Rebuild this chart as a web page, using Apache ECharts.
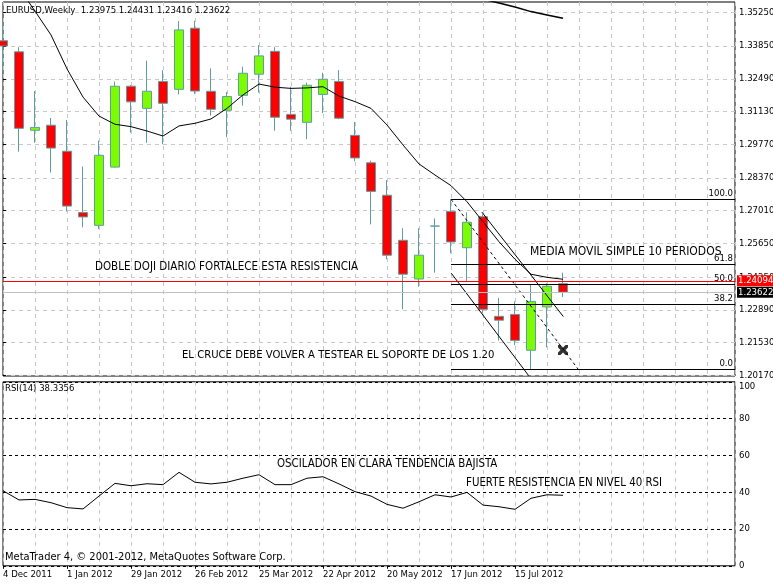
<!DOCTYPE html>
<html><head><meta charset="utf-8">
<script src="https://cdn.jsdelivr.net/npm/echarts@6/dist/echarts.min.js"></script>
<style>html,body{margin:0;padding:0;background:#fff}#c{width:773px;height:584px}</style>
</head><body><div id="c"></div>
<script>
// ---------------- data ----------------
const symbolName = 'EURUSD,Weekly';
const dateLabels = ['4 Dec 2011','1 Jan 2012','29 Jan 2012','26 Feb 2012','25 Mar 2012','22 Apr 2012','20 May 2012','17 Jun 2012','15 Jul 2012'];
const dateLabelIdx = [0, 4, 8, 12, 16, 20, 24, 28, 32];
const open  = [1.3407,1.3361,1.3035,1.3056,1.2948,1.2693,1.2640,1.2882,1.3218,1.3126,1.3238,1.3205,1.3459,1.3197,1.3118,1.3180,1.3268,1.3363,1.3101,1.3068,1.3184,1.3238,1.3014,1.2900,1.2765,1.2578,1.2417,1.2637,1.2698,1.2547,1.2676,1.2262,1.2270,1.2121,1.2301,1.23975];
const close = [1.3385,1.3043,1.3047,1.2961,1.2720,1.2675,1.2931,1.3218,1.3153,1.3197,1.3147,1.3452,1.3198,1.3122,1.3175,1.3272,1.3344,1.3089,1.3081,1.3222,1.3247,1.3085,1.2920,1.2781,1.2516,1.2437,1.2516,1.2637,1.2571,1.2653,1.2291,1.2246,1.2162,1.2324,1.2387,1.23622];
const low   = [1.3282,1.2946,1.2983,1.2859,1.2697,1.2632,1.2625,1.2880,1.3025,1.2983,1.2977,1.3184,1.3186,1.3096,1.3006,1.3137,1.3191,1.3033,1.3033,1.2998,1.3106,1.3081,1.2906,1.2644,1.2499,1.2291,1.2385,1.2443,1.2524,1.2409,1.2275,1.2161,1.2142,1.2042,1.2133,1.23416];
const high  = [1.3490,1.3380,1.3198,1.3086,1.3078,1.2884,1.2992,1.3237,1.3223,1.3324,1.3285,1.3489,1.3490,1.3292,1.3194,1.3299,1.3389,1.3380,1.3216,1.3233,1.3274,1.3285,1.3069,1.2909,1.2828,1.2628,1.2628,1.2669,1.2748,1.2694,1.2686,1.2338,1.2324,1.2395,1.2399,1.24431];
const sma10 = [1.3701,1.3626,1.3530,1.3431,1.3290,1.3173,1.3094,1.3060,1.3050,1.3032,1.3011,1.3053,1.3064,1.3082,1.3126,1.3182,1.3227,1.3214,1.3209,1.3211,1.3216,1.3177,1.3154,1.3126,1.3057,1.2974,1.2895,1.2849,1.2805,1.2738,1.2655,1.2572,1.2499,1.2437,1.2424,1.2416];
const smaLong = [null,null,null,null,null,null,null,null,null,null,null,null,null,null,null,null,null,null,null,null,null,null,null,null,null,null,null,null,null,null,1.3580,1.3564,1.3547,1.3528,1.3514,1.3500];
const rsi14 = [40.8,35.8,36.1,34.3,31.6,30.9,37.9,44.8,43.5,44.6,44.1,50.8,45.4,44.5,45.4,47.6,49.5,44.1,44.1,47.6,48.4,44.5,40.3,37.9,33.4,31.3,34.8,38.6,37.4,39.9,33.0,32.1,30.7,36.7,38.6,38.3356];
const priceTicks = [1.2017,1.2153,1.2289,1.2425,1.2565,1.2701,1.2837,1.2977,1.3113,1.3249,1.3385,1.3525];
const rsiTicks = [0,20,40,60,80,100];
const fibLevels = [1.27482,1.24784,1.23950,1.23117,1.20419];
const fibNames = ['100.0','61.8','50.0','38.2','0.0'];
const fibStartIdx = 28;
const fibTrend = [[28, 1.27482],[35.95, 1.20419]];
const channelUpper = [[29.93, 1.2695],[35.02, 1.2261]];
const channelLower = [[28.02, 1.2441],[32.85, 1.2016]];
const crossMark = [[35, 1.2122]];
const resistanceLevel = 1.24094;
const bidPrice = 1.23622;
const notes = ['DOBLE DOJI DIARIO FORTALECE ESTA RESISTENCIA','MEDIA MOVIL SIMPLE 10 PERIODOS','EL CRUCE DEBE VOLVER A TESTEAR EL SOPORTE DE LOS 1.20','OSCILADOR EN CLARA TENDENCIA BAJISTA','FUERTE RESISTENCIA EN NIVEL 40 RSI'];
const copyright = 'MetaTrader 4, \u00a9 2001-2012, MetaQuotes Software Corp.';

// ---------------- chart ----------------
const FONT = "'DejaVu Sans Condensed','Liberation Sans',Arial,sans-serif";
const xMin = 0, xMax = 45.75;
const yMin = 1.20141, yMax = 1.35679;
const last = open.length - 1;
const candleData = open.map((o, i) => [i, o, close[i], low[i], high[i]]);
const gridDash = {color: '#c8c8c8', type: [4, 4], width: 1};
const axisText = {color: '#000', fontFamily: FONT, fontSize: 9.5};

const chart = echarts.init(document.getElementById('c'), null, {renderer: 'canvas'});
const blackLine = {color: '#000', width: 1, type: 'solid'};

const markData = [];
fibLevels.forEach((v, i) => {
  markData.push([
    {coord: [fibStartIdx, v], lineStyle: blackLine,
     label: {show: true, formatter: fibNames[i], position: 'insideEndTop', distance: [2, 1], color: '#000', fontFamily: FONT, fontSize: 9.5}},
    {coord: [xMax, v]}
  ]);
});
markData.push([{coord: fibTrend[0], lineStyle: {color: '#000', width: 1, type: [3, 3]}, label: {show: false}}, {coord: fibTrend[1]}]);
markData.push([{coord: channelUpper[0], lineStyle: blackLine, label: {show: false}}, {coord: channelUpper[1]}]);
markData.push([{coord: channelLower[0], lineStyle: blackLine, label: {show: false}}, {coord: channelLower[1]}]);
markData.push({yAxis: bidPrice, lineStyle: {color: '#c0c0c0', width: 1, type: 'solid'},
  label: {show: true, position: 'end', distance: 2, formatter: bidPrice.toFixed(5), color: '#fff', backgroundColor: '#000', padding: [1, 4, 0, 1], fontFamily: FONT, fontSize: 9.5}});
markData.push({yAxis: resistanceLevel, lineStyle: {color: '#ff0000', width: 1, type: 'solid'},
  label: {show: true, position: 'end', distance: 2, formatter: resistanceLevel.toFixed(5), color: '#fff', backgroundColor: '#ff0000', padding: [1, 4, 0, 1], fontFamily: FONT, fontSize: 9.5}});

const header = symbolName + '  ' + [open[last], high[last], low[last], close[last]].map(v => v.toFixed(5)).join(' ');
const rsiTitle = 'RSI(14) ' + rsi14[last].toFixed(4);

function txt(x, y, s, size) {
  return {type: 'text', left: x, top: y - size / 2 - 1, z: 100,
    style: {text: s, fill: '#000', font: size + 'px ' + FONT}};
}

const option = {
  animation: false,
  backgroundColor: '#fff',
  grid: [
    {left: 3, right: 38, top: 2, height: 374, show: true, borderColor: '#000', borderWidth: 1, backgroundColor: '#fff', outerBoundsMode: 'none', containLabel: false},
    {left: 3, right: 38, top: 381.8, height: 184, show: true, borderColor: '#000', borderWidth: 1, backgroundColor: '#fff', outerBoundsMode: 'none', containLabel: false}
  ],
  xAxis: [
    {gridIndex: 0, type: 'value', min: xMin, max: xMax, interval: 2,
     axisLine: {show: false}, axisTick: {show: false}, axisLabel: {show: false}, splitLine: {show: true, lineStyle: gridDash}},
    {gridIndex: 1, type: 'value', min: xMin, max: xMax, interval: 4,
     axisLine: {show: false},
     axisTick: {show: true, customValues: dateLabelIdx, length: 3, lineStyle: {color: '#000'}},
     axisLabel: Object.assign({show: true, customValues: dateLabelIdx, align: 'left', margin: 4,
       formatter: v => { const k = dateLabelIdx.indexOf(Math.round(v)); return k >= 0 ? dateLabels[k] : ''; }}, axisText),
     splitLine: {show: false}},
    {gridIndex: 1, type: 'value', min: xMin, max: xMax, interval: 2,
     axisLine: {show: false}, axisTick: {show: false}, axisLabel: {show: false}, splitLine: {show: true, lineStyle: gridDash}}
  ],
  yAxis: [
    {gridIndex: 0, type: 'value', position: 'right', min: yMin, max: yMax,
     axisLine: {show: false},
     axisTick: {show: true, customValues: priceTicks, length: 3, lineStyle: {color: '#000'}},
     axisLabel: Object.assign({customValues: priceTicks, margin: 4, formatter: v => v.toFixed(5)}, axisText),
     splitLine: {show: true, lineStyle: gridDash}},
    {gridIndex: 1, type: 'value', position: 'right', min: 0, max: 100, interval: 20,
     axisLine: {show: false},
     axisTick: {show: true, length: 3, lineStyle: {color: '#000'}},
     axisLabel: Object.assign({margin: 4, verticalAlignMaxLabel: 'top'}, axisText),
     splitLine: {show: true, lineStyle: {color: '#000', type: [3, 3], width: 1}}}
  ],
  graphic: [
    txt(6, 11, header, 9.5),
    txt(5, 389, rsiTitle, 9.5),
    txt(5, 558, copyright, 11),
    txt(95, 268, notes[0], 11.5),
    txt(530, 253, notes[1], 12),
    txt(182, 356, notes[2], 11.2),
    txt(277, 465, notes[3], 11.4),
    txt(466, 484, notes[4], 11.4)
  ],
  series: [
    {type: 'candlestick', xAxisIndex: 0, yAxisIndex: 0, data: candleData, barWidth: 10, clip: true,
     itemStyle: {color: '#7cfc00', color0: '#ff0000', borderColor: '#5f9ea0', borderColor0: '#5f9ea0', borderColorDoji: '#5f9ea0', borderWidth: 1}},
    {type: 'line', xAxisIndex: 0, yAxisIndex: 0, data: sma10.map((v, i) => [i, v]), symbol: 'none', clip: true,
     lineStyle: {color: '#000', width: 1}, z: 4},
    {type: 'line', xAxisIndex: 0, yAxisIndex: 0, data: smaLong.map((v, i) => [i, v]), symbol: 'none', clip: true, connectNulls: false,
     lineStyle: {color: '#000', width: 1.5}, z: 4},
    {type: 'line', xAxisIndex: 0, yAxisIndex: 0, data: [], symbol: 'none', clip: false, z: 5,
     markLine: {silent: true, symbol: ['none', 'none'], animation: false, precision: 5, data: markData}},
    {type: 'scatter', xAxisIndex: 0, yAxisIndex: 0, data: crossMark, z: 6,
     symbol: 'path://M0,0 L2.5,0 L5,2.5 L7.5,0 L10,0 L10,2.5 L7.5,5 L10,7.5 L10,10 L7.5,10 L5,7.5 L2.5,10 L0,10 L0,7.5 L2.5,5 L0,2.5 Z', symbolSize: 10,
     itemStyle: {color: '#000'}},
    {type: 'line', xAxisIndex: 1, yAxisIndex: 1, data: rsi14.map((v, i) => [i, v]), symbol: 'none', clip: true,
     lineStyle: {color: '#000', width: 1}}
  ]
};
chart.setOption(option);
</script></body></html>
